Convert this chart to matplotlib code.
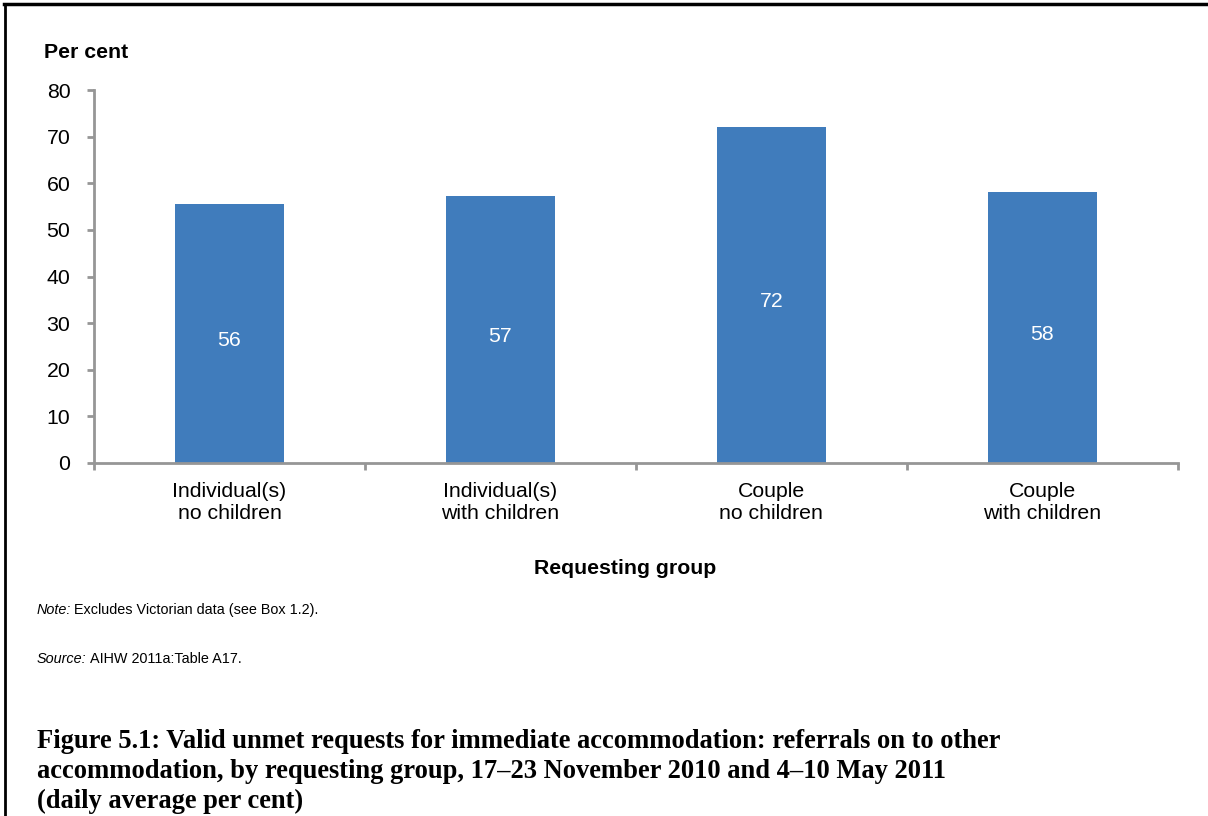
import numpy as np
import matplotlib
matplotlib.use("Agg")
import matplotlib.pyplot as plt
from matplotlib.lines import Line2D

plt.rcParams['font.family'] = ['Liberation Sans', 'DejaVu Sans']

# data
groups = ["Individual(s)\nno children", "Individual(s)\nwith children",
          "Couple\nno children", "Couple\nwith children"]
values = [55.6, 57.3, 72.1, 58.1]
yticks = [0, 10, 20, 30, 40, 50, 60, 70, 80]

axis_grey = "#969696"
bar_blue = "#407cbc"
fs = 15.3

fig = plt.figure(figsize=(12.08, 8.16), dpi=100)
ax = fig.add_axes([0.0778, 0.4326, 0.8972, 0.4571])

x = np.arange(len(groups))
bars = ax.bar(x, values, width=0.40, color=bar_blue, zorder=2)

# value labels in the middle of each bar
for xi, v in zip(x, values):
    ax.text(xi, v / 2 - 1.5, "%d" % round(v), ha="center", va="center",
            color="white", fontsize=fs)

ax.set_xlim(-0.5, len(groups) - 0.5)
ax.set_ylim(0, 80)
ax.set_yticks(yticks)
ax.tick_params(axis="y", labelsize=fs, length=5, width=2, color=axis_grey, pad=12)

# category boundaries get tick marks, labels sit in between
ax.set_xticks(np.arange(-0.5, len(groups), 1.0))
ax.set_xticklabels([])
ax.tick_params(axis="x", which="major", length=5, width=2, color=axis_grey)
ax.set_xticks(x, minor=True)
ax.set_xticklabels(groups, minor=True, fontsize=fs)
ax.tick_params(axis="x", which="minor", length=0, pad=14)

for s in ["top", "right"]:
    ax.spines[s].set_visible(False)
for s in ["left", "bottom"]:
    ax.spines[s].set_color(axis_grey)
    ax.spines[s].set_linewidth(2)

fig.text(44 / 1208, 1 - 52 / 816, "Per cent", fontsize=fs, fontweight="bold",
         ha="left", va="center")
fig.text(625 / 1208, 1 - 568 / 816, "Requesting group", fontsize=fs,
         fontweight="bold", ha="center", va="center")

# note and source: italic lead word, then the plain text after it
fig.canvas.draw()
renderer = fig.canvas.get_renderer()
for lead, rest, ypix in [("Note:", "Excludes Victorian data (see Box 1.2).", 610),
                         ("Source:", "AIHW 2011a:Table A17.", 659)]:
    t = fig.text(37 / 1208, 1 - ypix / 816, lead, fontsize=10.4, style="italic",
                 ha="left", va="center")
    bb = t.get_window_extent(renderer)
    fig.text((bb.x1 + 3) / 1208, 1 - ypix / 816, rest, fontsize=10.4,
             ha="left", va="center")

title = ("Figure 5.1: Valid unmet requests for immediate accommodation: referrals on to other\n"
         "accommodation, by requesting group, 17\u201323 November 2010 and 4\u201310 May 2011\n"
         "(daily average per cent)")
fig.text(37 / 1208, 1 - 729 / 816, title, fontsize=19.1, fontweight="bold",
         family=["Liberation Serif"], ha="left", va="top", linespacing=1.27)

# frame lines (top and left only)
fig.add_artist(Line2D([4 / 1208, 1], [1 - 4 / 816, 1 - 4 / 816], color="black",
                      lw=2.5, transform=fig.transFigure))
fig.add_artist(Line2D([5 / 1208, 5 / 1208], [0, 1 - 4 / 816], color="black",
                      lw=2.0, transform=fig.transFigure))

fig.savefig("out.png", dpi=100)
